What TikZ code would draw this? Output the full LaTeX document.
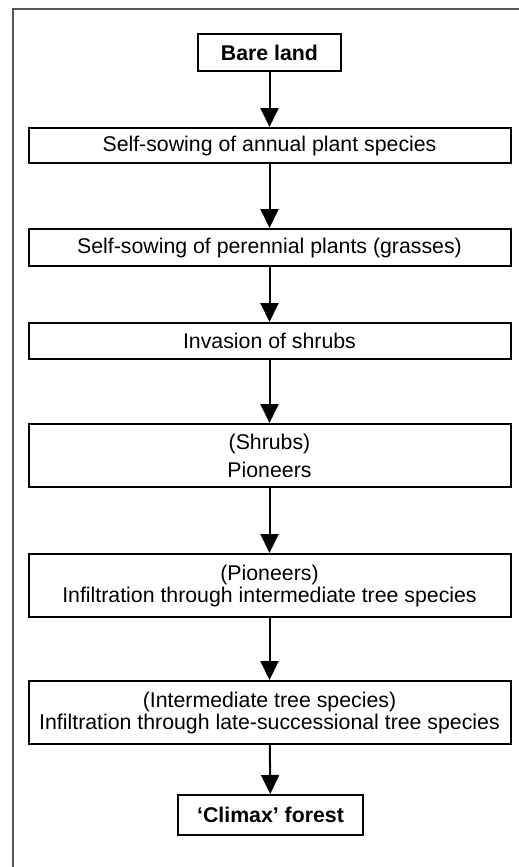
\documentclass[tikz,border=0pt]{standalone}
\usepackage{fontspec}
\setmainfont{Liberation Sans}
\usetikzlibrary{arrows.meta}
\definecolor{framegray}{HTML}{555555}
\begin{document}
\begin{tikzpicture}[x=1pt,y=-1pt,
  stage/.style={draw=black, line width=2pt, fill=white, inner sep=0pt,
    align=center, font=\fontsize{21.3}{22}\selectfont},
  widebox/.style={stage, minimum width=482pt},
  flow/.style={line width=2pt, -{Triangle[width=18pt,length=19pt]}}]
  \useasboundingbox (0,0) rectangle (519,867);
  % open frame: left and top edges only
  \draw[framegray, line width=1.5pt] (13,867) -- (13,9) -- (519,9);

  \node[stage, minimum width=143pt, minimum height=37pt, font=\fontsize{21.3}{22}\selectfont\bfseries]
    (bare) at (269.5,52.5) {Bare land};
  \node[widebox, minimum height=35pt] (annual) at (269.5,145.5)
    {Self-sowing of annual plant species};
  \node[widebox, minimum height=37pt] (perennial) at (269.5,247.5)
    {Self-sowing of perennial plants (grasses)};
  \node[widebox, minimum height=36pt] (shrubs) at (269.5,341)
    {Invasion of shrubs};
  \node[widebox, minimum height=63pt] (pioneers) at (269.5,455.5)
    {(Shrubs)\\[6pt]Pioneers};
  \node[widebox, minimum height=63pt] (intermediate) at (269.5,585.5)
    {(Pioneers)\\Infiltration through intermediate tree species};
  \node[widebox, minimum height=63pt] (late) at (269.5,712.5)
    {(Intermediate tree species)\\Infiltration through late-successional tree species};
  \node[stage, minimum width=185pt, minimum height=40pt, font=\fontsize{21.3}{22}\selectfont\bfseries]
    (climax) at (270.5,815) {‘Climax’ forest};

  \draw[flow] (bare) -- (annual);
  \draw[flow] (annual) -- (perennial);
  \draw[flow] (perennial) -- (shrubs);
  \draw[flow] (shrubs) -- (pioneers);
  \draw[flow] (pioneers) -- (intermediate);
  \draw[flow] (intermediate) -- (late);
  \draw[flow] (late) -- (climax);
\end{tikzpicture}
\end{document}
